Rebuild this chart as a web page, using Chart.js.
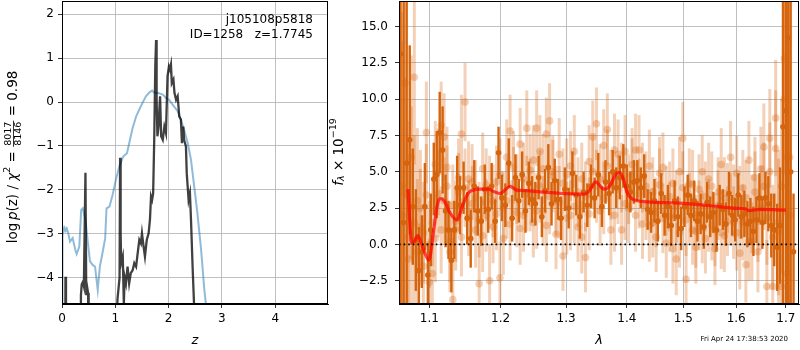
<!DOCTYPE html>
<html>
<head>
<meta charset="utf-8">
<script src="https://cdn.jsdelivr.net/npm/chart.js@4.4.1/dist/chart.umd.min.js"></script>
<style>
  body{margin:0;background:#fff;}
  #wrap{position:relative;width:800px;height:350px;}
  #left{position:absolute;left:0;top:0;}
  #right{position:absolute;left:325px;top:0;}
</style>
</head>
<body>
<div id="wrap">
  <canvas id="left" width="340" height="350"></canvas>
  <canvas id="right" width="475" height="350"></canvas>
</div>
<script>
// ---- left panel: log p(z)
const zTicks=[0,1,2,3,4];
const pTicks=[-4,-3,-2,-1,0,1,2];
const zBlue=[0.00,0.01,0.03,0.05,0.07,0.09,0.12,0.15,0.20,0.25,0.275,0.325,0.36,0.39,0.44,0.48,0.525,0.575,0.62,0.67,0.71,0.76,0.81,0.835,0.89,0.95,1.01,1.075,1.15,1.22,1.275,1.325,1.39,1.45,1.51,1.575,1.64,1.69,1.73,1.79,1.89,1.95,2.01,2.075,2.17,2.23,2.29,2.36,2.42,2.48,2.54,2.61,2.67,2.70,2.75];
const pBlue=[-4.7,-2.84,-2.95,-2.87,-2.93,-2.88,-3.0,-3.18,-3.1,-3.37,-3.46,-3.29,-2.46,-2.42,-2.68,-3.14,-3.63,-3.71,-3.75,-4.28,-3.75,-3.44,-3.1,-2.42,-2.38,-2.11,-1.77,-1.47,-1.24,-1.16,-0.86,-0.59,-0.33,-0.17,-0.02,0.13,0.22,0.26,0.21,0.21,0.17,0.09,0.05,-0.06,-0.21,-0.4,-0.63,-0.94,-1.32,-1.92,-2.53,-3.37,-4.28,-4.6,-5.2];
const zBlack=[0.055,0.065,0.075,0.34,0.355,0.37,0.39,0.41,0.44,0.455,0.47,0.49,0.50,1.01,1.04,1.08,1.09,1.10,1.11,1.14,1.16,1.175,1.20,1.23,1.26,1.29,1.325,1.356,1.39,1.42,1.45,1.48,1.50,1.53,1.556,1.59,1.625,1.65,1.67,1.69,1.71,1.73,1.75,1.765,1.775,1.79,1.81,1.84,1.86,1.89,1.92,1.95,1.98,2.006,2.025,2.044,2.06,2.09,2.11,2.14,2.17,2.20,2.23,2.25,2.275,2.29,2.325,2.34,2.375,2.40,2.42,2.45,2.48,2.50];
const pBlack=[-8,-3.98,-8,-8,-4.4,-4.15,-4.1,-4.2,-1.61,-4.4,-4.2,-4.35,-8,-8,-4.5,-4.0,-1.27,-3.0,-3.67,-3.52,-4.6,-3.98,-4.13,-3.75,-4.13,-3.9,-3.83,-3.67,-3.75,-3.44,-3.14,-3.22,-2.99,-3.29,-3.52,-3.14,-2.99,-2.68,-2.15,-2.23,-2.08,-0.86,0.81,1.41,0.05,-0.78,-0.56,0.13,-0.78,-0.86,-0.56,-0.71,0.59,0.81,0.74,0.85,0.43,0.51,0.21,0.05,0.13,-0.33,-0.4,-0.94,-0.56,-0.86,-1.01,-1.62,-2.23,-2.08,-2.68,-3.75,-4.7,-8];

// ---- right panel: spectrum
const lamTicks=[1.1,1.2,1.3,1.4,1.5,1.6,1.7];
const fTicks=[-2.5,0,2.5,5,7.5,10,12.5,15];
const lamD=[1.062,1.066,1.070,1.074,1.078,1.082,1.086,1.090,1.094,1.098,
  1.102,1.106,1.110,1.114,1.118,1.122,1.126,1.130,1.134,1.138,
  1.142,1.147,1.152,1.157,1.162,1.167,1.172,1.177,1.182,1.187,
  1.192,1.197,1.202,1.207,1.212,1.217,1.222,1.227,1.232,1.237,
  1.242,1.247,1.252,1.257,1.262,1.267,1.272,1.277,1.282,1.287,
  1.292,1.298,1.304,1.310,1.316,1.322,1.328,1.334,1.340,1.346,
  1.352,1.358,1.364,1.370,1.376,1.382,1.388,1.394,1.400,1.406,
  1.412,1.418,1.424,1.430,1.436,1.442,1.448,1.454,1.460,1.466,
  1.472,1.478,1.484,1.490,1.496,1.502,1.508,1.514,1.520,1.526,
  1.532,1.538,1.544,1.550,1.556,1.562,1.568,1.574,1.580,1.586,
  1.592,1.598,1.604,1.610,1.616,1.622,1.628,1.634,1.640,1.646,
  1.652,1.658,1.664,1.670,1.676,1.682,1.688,1.694,1.700,1.705,
  1.710,1.716];
const fD=[13.1,1.5,5.6,7.2,2.6,0.3,-1.8,-0.5,2.6,-2.1,
  1.0,4.5,4.8,7.7,6.5,2.3,1.0,-1.1,1.0,3.9,
  2.7,3.9,1.8,0.4,4.0,2.3,1.6,3.8,2.4,4.0,
  1.6,6.3,3.2,2.7,5.6,1.8,4.6,3.0,4.8,2.3,
  4.2,3.1,2.8,4.6,1.9,3.7,5.3,2.8,4.4,3.1,
  1.8,3.8,2.5,4.9,3.4,1.9,3.6,2.7,4.0,3.2,
  4.8,2.6,4.3,3.5,5.0,3.9,4.6,5.4,4.0,3.6,
  4.3,4.4,3.9,4.7,2.4,2.2,3.0,1.6,3.5,2.0,
  2.6,1.3,3.0,1.9,1.1,2.6,3.4,2.0,3.0,1.6,
  2.1,1.2,2.9,1.9,2.2,1.0,2.7,2.4,1.4,3.5,
  2.0,1.7,3.4,1.9,2.1,1.4,1.6,0.9,1.7,3.2,
  1.5,3.2,2.8,1.3,1.0,-0.2,1.3,8.1,9.2,14.2,
  5.0,-0.5];
const eD=[20,16,13,6.5,4,3.5,3,2.5,3,2.2,
  2.5,2.5,3,2.8,3,2.5,2,2.2,2,2.2,
  2,1.8,1.8,2,1.8,1.7,1.7,1.7,1.6,1.6,
  1.5,1.8,1.6,1.5,1.7,1.6,1.6,1.5,1.6,1.5,
  1.5,1.6,1.5,1.5,1.4,1.5,1.6,1.5,1.5,1.4,
  1.5,1.5,1.4,1.5,1.4,1.5,1.4,1.5,1.5,1.4,
  1.5,1.4,1.5,1.5,1.5,1.4,1.5,1.5,1.5,1.4,
  1.5,1.4,1.4,1.5,1.4,1.4,1.5,1.4,1.4,1.4,
  1.5,1.4,1.4,1.4,1.5,1.4,1.4,1.5,1.4,1.4,
  1.4,1.5,1.4,1.4,1.4,1.5,1.4,1.4,1.5,1.5,
  1.4,1.5,1.5,1.5,1.6,1.6,1.6,1.7,1.6,1.7,
  1.8,1.8,1.9,2.2,2.5,3,4,14,20,20,
  20,4];
const lamF=[1.064,1.068,1.072,1.076,1.080,1.084,1.088,1.092,1.096,1.100,
  1.104,1.108,1.112,1.116,1.120,1.124,1.128,1.132,1.136,1.140,
  1.144,1.149,1.154,1.159,1.164,1.169,1.174,1.179,1.184,1.189,
  1.194,1.199,1.204,1.209,1.214,1.219,1.224,1.229,1.234,1.239,
  1.244,1.249,1.254,1.259,1.264,1.269,1.274,1.279,1.284,1.289,
  1.295,1.301,1.307,1.313,1.319,1.325,1.331,1.337,1.343,1.349,
  1.355,1.361,1.367,1.373,1.379,1.385,1.391,1.397,1.403,1.409,
  1.415,1.421,1.427,1.433,1.439,1.445,1.451,1.457,1.463,1.469,
  1.475,1.481,1.487,1.493,1.499,1.505,1.511,1.517,1.523,1.529,
  1.535,1.541,1.547,1.553,1.559,1.565,1.571,1.577,1.583,1.589,
  1.595,1.601,1.607,1.613,1.619,1.625,1.631,1.637,1.643,1.649,
  1.655,1.661,1.667,1.673,1.679,1.685,1.691,1.697,1.702,1.708];
const fA=[4.0,11.1,0.5,6.0,11.5,3.0,1.2,-1.5,7.7,0.0,
  -2.0,5.5,3.5,8.2,7.4,4.0,0.2,-3.8,1.0,3.6,
  7.6,9.8,4.5,2.8,1.0,-2.7,5.2,4.1,-2.5,3.0,
  4.3,-2.3,2.5,6.0,7.8,5.3,2.2,6.9,4.5,8.0,
  3.4,5.8,8.0,6.4,2.3,7.6,8.5,5.0,3.0,6.2,
  -0.8,4.8,2.0,6.4,3.6,0.5,-0.9,5.7,7.4,8.3,
  4.5,6.8,7.9,1.0,6.5,3.8,1.0,6.4,2.5,5.5,
  6.5,6.5,1.4,4.0,5.4,1.5,0.5,4.9,5.3,0.1,
  3.3,-0.3,-1.0,5.0,7.3,-2.4,4.2,1.0,-0.2,3.8,
  5.0,0.4,4.5,1.3,-0.3,3.6,5.5,0.6,3.2,6.0,
  1.5,4.9,-0.6,3.9,-1.4,5.8,0.2,4.6,1.6,5.2,
  6.7,-2.9,7.3,-2.9,8.7,0.9,-2.9,12.8,-2.0,6.0];
const fB=[2.0,3.5,-1.0,2.5,1.5,-0.5,2.5,0.8,3.4,-2.6,
  1.5,0.4,5.0,1.0,3.0,5.3,-0.5,2.7,1.6,4.6,
  0.5,3.9,1.8,4.3,3.2,1.7,0.6,2.0,3.6,1.2,
  2.1,4.8,0.4,3.0,1.4,4.2,3.8,1.1,2.0,3.5,
  5.1,1.5,2.3,4.0,5.2,1.3,3.3,4.7,0.7,2.9,
  4.2,1.8,5.4,2.6,1.2,4.5,3.3,2.1,5.0,4.0,
  2.3,3.2,5.4,4.1,2.0,6.2,4.6,2.8,3.8,4.8,
  2.0,3.5,4.6,2.7,1.3,3.6,2.2,4.1,1.8,3.0,
  1.9,4.2,2.6,0.8,3.9,1.7,2.5,4.1,0.9,2.0,
  1.2,3.3,2.0,4.0,1.0,2.7,0.8,3.5,1.6,2.4,
  3.0,0.8,2.9,1.5,3.2,0.2,2.1,3.6,-0.5,2.5,
  4.0,1.8,5.0,0.5,6.6,1.5,4.0,10.0,6.0,2.0];
const eF=[12,8,8,7,6,5,4,3.5,3.5,3,
  3,3,3,3,3,2.8,2.8,2.8,2.8,2.7,
  2.7,2.7,2.6,2.6,2.6,2.6,2.5,2.5,2.5,2.5,
  2.5,2.5,2.5,2.6,2.5,2.5,2.4,2.5,2.5,2.6,
  2.5,2.4,2.6,2.5,2.4,2.5,2.6,2.5,2.4,2.5,
  2.4,2.5,2.4,2.5,2.4,2.5,2.4,2.5,2.5,2.5,
  2.4,2.5,2.5,2.4,2.5,2.4,2.4,2.5,2.4,2.5,
  2.5,2.4,2.4,2.4,2.5,2.4,2.4,2.5,2.4,2.4,
  2.4,2.4,2.5,2.4,2.5,2.5,2.4,2.4,2.5,2.4,
  2.5,2.4,2.5,2.4,2.5,2.4,2.5,2.5,2.4,2.5,
  2.5,2.6,2.5,2.6,2.6,2.7,2.7,2.8,2.8,2.9,
  3,3.2,3.4,3.6,4,5,6,8,10,12];
const lamM=[1.0718,1.0765,1.0800,1.0847,1.0900,1.0993,1.1060,1.1100,1.1143,1.1200,1.1290,1.1380,1.1450,1.1550,1.1700,1.1820,1.1920,1.1990,1.2090,1.2140,1.2240,1.2390,1.2590,1.3000,1.3300,1.3380,1.3477,1.3614,1.3700,1.3830,1.3880,1.3950,1.4000,1.4079,1.4180,1.4355,1.5000,1.5510,1.6020,1.6180,1.6240,1.6480,1.7000];
const fM=[3.8,0.1,0.2,0.6,0.0,-1.08,1.0,2.5,3.17,3.0,2.1,1.67,2.6,3.6,3.8,3.8,3.6,3.5,3.85,4.0,3.74,3.7,3.62,3.5,3.46,3.74,4.31,3.8,3.97,4.9,4.95,4.4,3.6,3.17,3.0,2.93,2.82,2.66,2.48,2.45,2.33,2.41,2.36];

const DARK='rgb(214,100,12)', FAINT='rgba(214,100,12,0.3)';
Chart.defaults.font.family='DejaVu Sans';
Chart.defaults.font.size=12;
Chart.defaults.color='#000';

const fmt=(v,d)=>(v<0?'\u2212':'')+Math.abs(v).toFixed(d);
const pts=(xs,ys)=>xs.map((x,i)=>({x,y:ys[i]}));

const errorBars={
  id:'errorBars',
  beforeDatasetDraw(chart,args){
    const ds=chart.data.datasets[args.index];
    if(!ds.errs) return;
    const ctx=chart.ctx, sx=chart.scales.x, sy=chart.scales.y, a=chart.chartArea;
    ctx.save();
    ctx.beginPath(); ctx.rect(a.left,a.top,a.right-a.left,a.bottom-a.top); ctx.clip();
    ctx.strokeStyle=ds.errColor; ctx.lineWidth=ds.errWidth;
    ds.data.forEach((p,i)=>{
      const px=sx.getPixelForValue(p.x);
      ctx.beginPath();
      ctx.moveTo(px,sy.getPixelForValue(p.y-ds.errs[i]));
      ctx.lineTo(px,sy.getPixelForValue(p.y+ds.errs[i]));
      ctx.stroke();
    });
    ctx.restore();
  }
};
const frame={
  id:'frame',
  afterDraw(chart){
    const a=chart.chartArea, ctx=chart.ctx;
    ctx.save(); ctx.strokeStyle='#000'; ctx.lineWidth=1;
    ctx.strokeRect(Math.round(a.left)+0.5,Math.round(a.top)+0.5,Math.round(a.right-a.left)-1,Math.round(a.bottom-a.top)-1);
    ctx.restore();
  }
};
// rich rotated label: parts drawn along the text direction
function richLabel(ctx,parts,cx,cy,rot){
  ctx.save(); ctx.translate(cx,cy); if(rot) ctx.rotate(-Math.PI/2);
  ctx.textBaseline='middle'; ctx.fillStyle='#000';
  let total=0;
  parts.forEach(p=>{ctx.font=p.font;
    p.w=p.frac?Math.max(ctx.measureText(p.num).width,ctx.measureText(p.den).width)+2:ctx.measureText(p.t).width;
    total+=p.w;});
  let x=-total/2;
  parts.forEach(p=>{ctx.font=p.font;
    if(p.frac){ctx.textAlign='center';
      ctx.fillText(p.num,x+p.w/2,p.dy1); ctx.fillText(p.den,x+p.w/2,p.dy2);
      ctx.fillRect(x,p.bar,p.w,0.8);
    } else {ctx.textAlign='left'; ctx.fillText(p.t,x,p.dy||0);}
    x+=p.w;});
  ctx.restore();
}
const N='13.5px "DejaVu Sans"', I='italic 13.5px "DejaVu Sans"', S='9.5px "DejaVu Sans"';

const axisCommon=(extra)=>Object.assign({
  grid:{color:'#b0b0b0',lineWidth:0.8,tickColor:'#000',tickLength:4},
  border:{color:'#000',width:1}
},extra);
const fitX=s=>{s.height=46;s.paddingLeft=0;s.paddingRight=0;};
const fitY=w=>s=>{s.width=w;s.paddingTop=0;s.paddingBottom=0;};

new Chart(document.getElementById('left'),{
  type:'scatter',
  data:{datasets:[
    {data:pts(zBlack,pBlack),showLine:true,borderColor:'rgba(0,0,0,0.75)',borderWidth:2.3,pointRadius:0,order:0},
    {data:pts(zBlue,pBlue),showLine:true,borderColor:'rgba(31,119,180,0.5)',borderWidth:2,pointRadius:0,order:1}
  ]},
  options:{
    responsive:false,animation:false,devicePixelRatio:1,
    layout:{autoPadding:false,padding:{left:0,right:12,top:1,bottom:0}},
    plugins:{legend:{display:false},tooltip:{enabled:false}},
    scales:{
      x:axisCommon({type:'linear',min:0,max:4.99,
        afterBuildTicks:s=>{s.ticks=zTicks.map(v=>({value:v}));},
        afterFit:fitX,
        ticks:{callback:v=>fmt(v,0),padding:4,maxRotation:0,autoSkip:false}}),
      y:axisCommon({type:'linear',min:-4.6,max:2.3,
        afterBuildTicks:s=>{s.ticks=pTicks.map(v=>({value:v}));},
        afterFit:fitY(62),
        ticks:{callback:v=>fmt(v,0),padding:4,autoSkip:false}})
    }
  },
  plugins:[frame,{
    id:'leftText',
    afterDraw(chart){
      const ctx=chart.ctx;
      ctx.save(); ctx.fillStyle='#000'; ctx.font='12px "DejaVu Sans"';
      ctx.textAlign='right'; ctx.textBaseline='middle';
      ctx.fillText('j105108p5818',313,20);
      ctx.fillText('ID=1258   z=1.7745',313,35);
      ctx.font='italic 13px "DejaVu Sans"'; ctx.textAlign='center';
      ctx.fillText('z',195,341);
      ctx.restore();
      richLabel(ctx,[
        {t:'log\u2009',font:N},{t:'p',font:I},{t:'(z) / ',font:N},{t:'\u03c7',font:I},
        {t:'2',font:S,dy:-5},{t:' = ',font:N},
        {frac:true,num:'8017',den:'8146',font:S,dy1:-4,dy2:5.5,bar:0},
        {t:' = 0.98',font:N}],13,157,true);
    }
  }]
});

new Chart(document.getElementById('right'),{
  type:'scatter',
  data:{datasets:[
    {data:[{x:1.06,y:0},{x:1.7275,y:0}],showLine:true,borderColor:'#000',borderWidth:1.6,borderDash:[1.6,3],pointRadius:0,order:0},
    {data:pts(lamM,fM),showLine:true,borderColor:'rgba(255,0,0,0.7)',borderWidth:3.2,pointRadius:0,cubicInterpolationMode:'monotone',order:1},
    {data:pts(lamD,fD),errs:eD,errColor:DARK,errWidth:2.4,backgroundColor:DARK,borderWidth:0,pointRadius:2.8,order:2},
    {data:pts(lamF,fA),errs:eF,errColor:FAINT,errWidth:3,backgroundColor:FAINT,borderWidth:0,pointRadius:3.8,order:3},
    {data:pts(lamF,fB),errs:eF,errColor:FAINT,errWidth:3,backgroundColor:FAINT,borderWidth:0,pointRadius:3.8,order:4}
  ]},
  options:{
    responsive:false,animation:false,devicePixelRatio:1,
    layout:{autoPadding:false,padding:{left:0,right:1,top:1,bottom:0}},
    plugins:{legend:{display:false},tooltip:{enabled:false}},
    scales:{
      x:axisCommon({type:'logarithmic',min:1.06,max:1.7275,
        afterBuildTicks:s=>{s.ticks=lamTicks.map(v=>({value:v}));},
        afterFit:fitX,
        ticks:{callback:v=>Number(v).toFixed(1),padding:4,maxRotation:0,autoSkip:false}}),
      y:axisCommon({type:'linear',min:-4.1,max:16.75,
        afterBuildTicks:s=>{s.ticks=fTicks.map(v=>({value:v}));},
        afterFit:fitY(74),
        ticks:{callback:v=>fmt(v,1),padding:7,autoSkip:false}})
    }
  },
  plugins:[errorBars,frame,{
    id:'rightText',
    afterDraw(chart){
      const ctx=chart.ctx;
      ctx.save(); ctx.fillStyle='#000';
      ctx.font='italic 13px "DejaVu Sans"'; ctx.textAlign='center'; ctx.textBaseline='middle';
      ctx.fillText('\u03bb',599-325,341);
      ctx.font='7px "DejaVu Sans"'; ctx.textAlign='right';
      ctx.fillText('Fri Apr 24 17:38:53 2020',788-325,339);
      ctx.restore();
      richLabel(ctx,[
        {t:'f',font:I},{t:'\u03bb',font:'italic 9.5px "DejaVu Sans"',dy:3},{t:' \u00d7 10',font:N},
        {t:'\u221219',font:S,dy:-5}],339-325,152,true);
    }
  }]
});
</script>
</body>
</html>
